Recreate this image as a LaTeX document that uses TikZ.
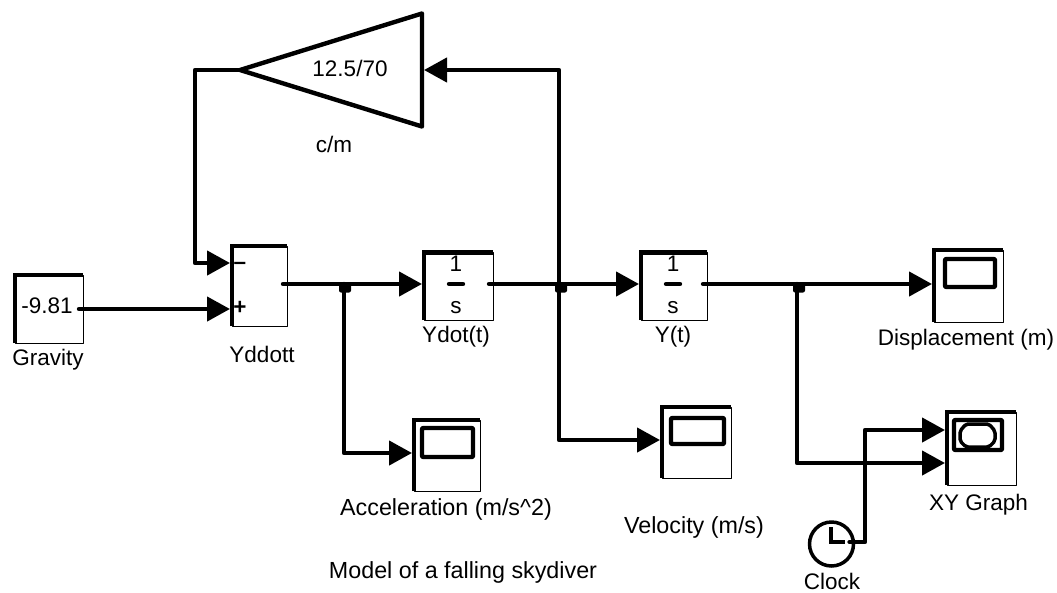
\documentclass[tikz,border=0pt]{standalone}
\usepackage{fontspec}
\setmainfont{Liberation Sans}
\usetikzlibrary{arrows.meta,shapes.geometric}
\tikzset{
	block/.style={draw,rectangle,anchor=north west,line width=1pt,inner sep=0pt,outer sep=0pt},
	lbl/.style={anchor=base,inner sep=0pt,font=\fontsize{22.5}{27}\selectfont},
	widelbl/.style={lbl,font=\fontsize{23.3}{27}\selectfont},
	signlbl/.style={lbl,font=\fontsize{22.5}{27}\selectfont\bfseries},
	wire/.style={line width=4.4pt},
	stub/.style={shorten <=-4pt},
	feed/.style={wire,-{Triangle[length=23pt,width=24pt]},shorten >=2pt},
	junction/.style={fill,rectangle,rounded corners=2pt,minimum width=12pt,minimum height=9pt,inner sep=0pt},
	screen/.style={line width=4.4pt,rounded corners=1pt}
}
\begin{document}
\begin{tikzpicture}[x=1pt,y=-1pt,line join=round,line cap=round]
	\useasboundingbox (0,0) rectangle (1057,592);
	% blocks
	\node[block,minimum width=68pt,minimum height=68pt] (gravity) at (15,275) {};
	\node[block,minimum width=55pt,minimum height=80pt] (sum) at (232,246) {};
	\node[block,minimum width=69pt,minimum height=67.5pt] (intv) at (424,252.5) {};
	\node[block,minimum width=66pt,minimum height=67.5pt] (inty) at (641,252.5) {};
	\node[block,minimum width=69pt,minimum height=72pt] (disp) at (934,250) {};
	\node[block,minimum width=66pt,minimum height=71pt] (acc) at (414,420) {};
	\node[block,minimum width=69pt,minimum height=71pt] (vel) at (662,407) {};
	\node[block,minimum width=69pt,minimum height=73pt] (xy) at (947,412) {};
	\node[draw,circle,line width=3.5pt,minimum size=44pt,inner sep=0pt,outer sep=0pt] (clock) at (831.5,544) {};
	\node[draw,isosceles triangle,isosceles triangle stretches,shape border rotate=180,line width=4.4pt,
		minimum height=182pt,minimum width=113pt,inner sep=0pt,outer sep=0pt,anchor=apex] (gain) at (240,70) {};
	\foreach \b in {gravity,sum,intv,inty,disp,acc,vel,xy}
	\draw[line width=4.4pt,line cap=butt,line join=miter] (\b.south west)--(\b.north west)--(\b.north east);
	\foreach \b/\dx/\dy/\w/\h in {disp/11/9/50/28,acc/8/8/51/29,vel/9/11/53/26,xy/7/8/48/30}
	\draw[screen] ([shift={(\dx,\dy)}]\b.north west) rectangle +(\w,\h);
	% block contents
	\draw[line width=3.5pt,rounded corners=2pt] (966,424)--(989,424)--(995,431)--(995,441)--(989,447)--(966,447)--(960,441)--(960,431)--cycle;
	\node[lbl] (gravityval) at (47,313) {-9.81};
	\node[lbl] (gainval) at (350,76) {12.5/70};
	\node[signlbl] (minus) at (240,269.5) {–};
	\node[signlbl] (plus) at (240,314.5) {+};
	\foreach \b/\x in {intv/456,inty/673}{
		\node[lbl] (\b one) at (\x,271) {1};
		\node[lbl] (\b s) at (\x,313) {s};
		\draw[line width=4.4pt] (\x-7,284)--(\x+7,284);
	}
	\draw[line width=3.5pt,line cap=butt,line join=miter] (831,527)--(831,542)--(845,542);
	% labels
	\node[lbl] (gravitytxt) at (48,365) {Gravity};
	\node[lbl] (sumtxt) at (262,362) {Yddott};
	\node[lbl] (intvtxt) at (456,342) {Ydot(t)};
	\node[lbl] (intytxt) at (673,342) {Y(t)};
	\node[lbl] (disptxt) at (966,345) {Displacement (m)};
	\node[widelbl] (acctxt) at (446,515) {Acceleration (m/s\textasciicircum 2)};
	\node[widelbl] (veltxt) at (694,533) {Velocity (m/s)};
	\node[lbl] (xytxt) at (978.5,510) {XY Graph};
	\node[lbl] (clocktxt) at (832,589) {Clock};
	\node[lbl] (gaintxt) at (334,152) {c/m};
	\node[widelbl] (title) at (463,578) {Model of a falling skydiver};
	% connectors
	\coordinate (rail) at (0,284);
	\coordinate (tapa) at (344,284);
	\coordinate (tapv) at (559,284);
	\coordinate (tapy) at (797,284);
	\coordinate (back) at (195,70);
	\coordinate (clockup) at (865,430);
	\draw[feed,stub] (gravity.east) -- (sum.west |- gravity.east);
	\draw[feed,stub] (sum.east |- rail) -- (intv.west |- rail);
	\draw[feed,stub] (intv.east |- rail) -- (inty.west |- rail);
	\draw[feed,stub] (inty.east |- rail) -- (disp.west |- rail);
	\draw[feed] (tapa) |- (acc.west |- 0,453);
	\draw[feed] (tapv) |- (vel.west |- 0,440);
	\draw[feed] (tapv) |- (gain.lower side);
	\draw[feed] (gain.apex) -- (back) |- (sum.west |- 0,263);
	\draw[feed] (tapy) |- (xy.west |- 0,463);
	\draw[feed,stub] ([yshift=2pt]clock.east) -| (clockup) -- (xy.west |- clockup);
	\node[junction] (junca) at (345,288) {};
	\node[junction] (juncv) at (561,288) {};
	\node[junction] (juncy) at (799,288) {};
\end{tikzpicture}
\end{document}
